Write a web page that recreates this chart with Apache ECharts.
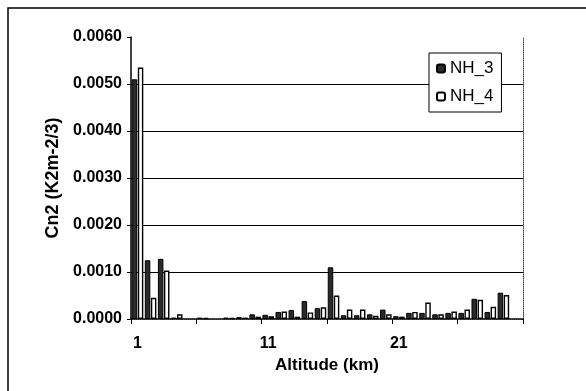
<!DOCTYPE html>
<html>
<head>
<meta charset="utf-8">
<script src="https://cdn.jsdelivr.net/npm/echarts@6/dist/echarts.min.js"></script>
<style>
  html, body { margin: 0; padding: 0; background: #fff; }
  #chart { width: 586px; height: 391px; }
</style>
</head>
<body>
<div id="chart"></div>
<script>
// Altitude bins (km)
const categories = ['1','2','3','4','5','6','7','8','9','10',
                    '11','12','13','14','15','16','17','18','19','20',
                    '21','22','23','24','25','26','27','28','29','30'];

// Cn2 per altitude bin for each night
const nh3 = [0.0051, 0.00125, 0.00128, 0.00003, null, 0.00003, null, 0.00003, 0.00004, 0.0001,
             0.00009, 0.00015, 0.00019, 0.00038, 0.00023, 0.0011, 0.00008, 0.00008, 0.0001, 0.0002,
             0.00006, 0.00013, 0.00013, 0.0001, 0.00013, 0.00013, 0.00043, 0.00015, 0.00056, null];
const nh4 = [0.00535, 0.00045, 0.00103, 0.0001, null, 0.00002, null, 0.00002, 0.00003, 0.00005,
             0.00006, 0.00016, 0.00005, 0.00014, 0.00025, 0.0005, 0.0002, 0.0002, 0.00007, 0.0001,
             0.00005, 0.00015, 0.00035, 0.0001, 0.00016, 0.0002, 0.00041, 0.00026, 0.00051, null];

const yMin = 0, yMax = 0.006, yStep = 0.001;

const FONT = '"Liberation Sans", Arial, sans-serif';

const chart = echarts.init(document.getElementById('chart'));
chart.setOption({
  animation: false,
  backgroundColor: '#fff',
  textStyle: { fontFamily: FONT },
  graphic: [{
    type: 'rect',
    shape: { x: 8, y: 8, width: 620, height: 420 },
    style: { fill: 'none', stroke: '#000', lineWidth: 1.5 },
    silent: true
  }],
  grid: { left: 131, right: 63, top: 37, bottom: 72, containLabel: false },
  legend: {
    orient: 'vertical',
    left: 429, top: 53,
    width: 70,
    padding: [7, 8, 7, 7],
    itemWidth: 8, itemHeight: 8,
    itemGap: 11,
    backgroundColor: '#fff',
    borderColor: '#000', borderWidth: 1,
    textStyle: { fontFamily: FONT, fontSize: 17, color: '#000' },
    data: ['NH_3', 'NH_4']
  },
  xAxis: [{
    type: 'category',
    data: categories,
    boundaryGap: true,
    name: 'Altitude (km)',
    nameLocation: 'middle',
    nameGap: 35,
    nameTextStyle: { fontFamily: FONT, fontSize: 17, fontWeight: 'bold', color: '#000' },
    axisLine: { lineStyle: { color: '#000', width: 1.5 } },
    axisTick: { show: true, interval: 4, length: 5, lineStyle: { color: '#000', width: 1 } },
    axisLabel: { interval: 9, margin: 17, fontFamily: FONT, fontSize: 16, fontWeight: 'bold', color: '#000' },
    splitLine: { show: false }
  }, {
    type: 'category',
    data: categories,
    position: 'top',
    axisLine: { lineStyle: { color: '#444', width: 1, type: 'dotted' } },
    axisTick: { show: false },
    axisLabel: { show: false }
  }],
  yAxis: [{
    type: 'value',
    min: yMin, max: yMax, interval: yStep,
    name: 'Cn2 (K2m-2/3)',
    nameLocation: 'middle',
    nameRotate: 90,
    nameGap: 56,
    nameTextStyle: { fontFamily: FONT, fontSize: 18, fontWeight: 'bold', color: '#000' },
    axisLine: { show: true, lineStyle: { color: '#000', width: 1.5 } },
    axisTick: { show: true, length: 4, lineStyle: { color: '#000' } },
    axisLabel: {
      margin: 9, fontFamily: FONT, fontSize: 16, fontWeight: 'bold', color: '#000',
      formatter: v => v.toFixed(4)
    },
    splitLine: {
      show: true,
      lineStyle: { color: ['#000', '#000', '#000', '#000', '#000', '#000', 'rgba(0,0,0,0)'], width: 1.2 }
    }
  }, {
    type: 'value',
    min: yMin, max: yMax, interval: yStep,
    position: 'right',
    axisLine: { show: true, lineStyle: { color: '#444', width: 1, type: 'dotted' } },
    axisTick: { show: false },
    axisLabel: { show: false },
    splitLine: { show: false }
  }],
  series: [{
    name: 'NH_3',
    type: 'bar',
    data: nh3,
    barWidth: 5.5,
    barGap: '10%',
    itemStyle: { color: '#2a2a2a', borderColor: '#000', borderWidth: 1 }
  }, {
    name: 'NH_4',
    type: 'bar',
    data: nh4,
    barWidth: 5.5,
    itemStyle: { color: '#fff', borderColor: '#000', borderWidth: 1.4 }
  }]
});
</script>
</body>
</html>
